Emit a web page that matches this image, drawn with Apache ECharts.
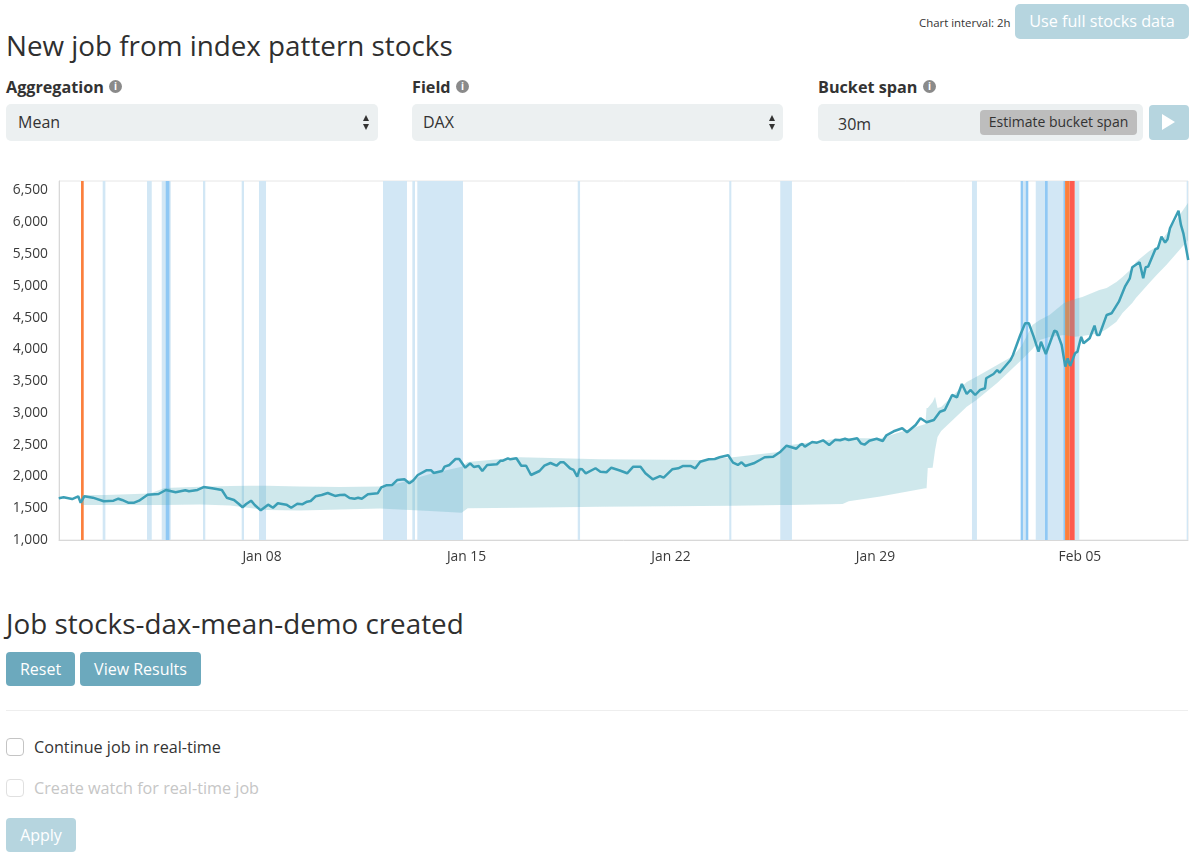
<!DOCTYPE html>
<html>
<head>
<meta charset="utf-8">
<title>New job from index pattern stocks</title>
<script src="https://cdn.jsdelivr.net/npm/echarts@6/dist/echarts.min.js"></script>
<style>
  html, body { margin: 0; padding: 0; background: #fff; }
  body { position: relative; width: 1194px; height: 858px; overflow: hidden; font-family: "Open Sans", sans-serif; color: #2d2d2d; }
  .abs { position: absolute; white-space: nowrap; }
  .title { font-size: 27.8px; line-height: 36px; color: #2f2f2f; }
  .lbl { font-size: 16.2px; font-weight: 700; line-height: 20px; top: 77px; color: #333; }
  .info { width: 13px; height: 13px; border-radius: 50%; background: #8a8a8a; color: #fff; font-size: 10px; font-weight: 700; line-height: 13px; text-align: center; top: 80px; }
  .box { top: 104px; height: 37px; background: #ecf0f1; border-radius: 5px; }
  .val { font-size: 16px; line-height: 20px; top: 112px; color: #333; }
  .up, .down { width: 0; height: 0; border-left: 3.5px solid transparent; border-right: 3.5px solid transparent; }
  .up { top: 115px; border-bottom: 6px solid #333; }
  .down { top: 124px; border-top: 6px solid #333; }
  .btn { height: 34px; line-height: 34px; text-align: center; color: #fff; font-size: 16px; border-radius: 4px; background: #6ca9bd; }
  .btn.off { background: #b6d5df; }
  .check { left: 6px; width: 16px; height: 16px; border: 1px solid #c4c4c4; border-radius: 4px; }
  .opt { left: 34px; font-size: 16.2px; line-height: 20px; }
  #main { position: absolute; left: 0; top: 170px; width: 1194px; height: 400px; }
</style>
</head>
<body>
<div class="abs" style="left:919px;top:15px;font-size:11.4px;line-height:16px;color:#333">Chart interval: 2h</div>
<div class="abs btn off" style="left:1015px;top:4px;width:174px;height:35px;line-height:35px;font-size:16.2px;border-radius:5px">Use full stocks data</div>
<div class="abs title" style="left:6px;top:27px">New job from index pattern stocks</div>

<div class="abs lbl" style="left:6px">Aggregation</div>
<div class="abs info" style="left:109px">i</div>
<div class="abs box" style="left:6px;width:372px"></div>
<div class="abs val" style="left:18px">Mean</div>
<div class="abs up" style="left:363px"></div><div class="abs down" style="left:363px"></div>

<div class="abs lbl" style="left:412px">Field</div>
<div class="abs info" style="left:456px">i</div>
<div class="abs box" style="left:412px;width:371px"></div>
<div class="abs val" style="left:423px">DAX</div>
<div class="abs up" style="left:769px"></div><div class="abs down" style="left:769px"></div>

<div class="abs lbl" style="left:818px">Bucket span</div>
<div class="abs info" style="left:923px">i</div>
<div class="abs box" style="left:818px;width:325px"></div>
<div class="abs val" style="left:838px;top:114px">30m</div>
<div class="abs" style="left:980px;top:110px;width:157px;height:25px;line-height:24px;background:#bdbdbd;border-radius:4px;text-align:center;font-size:14px;color:#333">Estimate bucket span</div>
<div class="abs btn off" style="left:1149px;top:105px;width:40px;height:35px"></div>
<div class="abs" style="left:1162px;top:114px;width:0;height:0;border-top:8.5px solid transparent;border-bottom:8.5px solid transparent;border-left:13px solid #fff"></div>

<div id="main"></div>

<div class="abs title" style="left:6px;top:605px">Job stocks-dax-mean-demo created</div>
<div class="abs btn" style="left:6px;top:652px;width:69px">Reset</div>
<div class="abs btn" style="left:80px;top:652px;width:121px">View Results</div>
<div class="abs" style="left:6px;top:710px;width:1182px;height:1px;background:#eeeeee"></div>
<div class="abs check" style="top:738px"></div>
<div class="abs opt" style="top:737px;color:#333">Continue job in real-time</div>
<div class="abs check" style="top:779px;border-color:#e0e0e0"></div>
<div class="abs opt" style="top:778px;color:#c6c6c6">Create watch for real-time job</div>
<div class="abs btn off" style="left:6px;top:818px;width:70px">Apply</div>

<script>
// x 轴单位：距 1 月 1 日 0 点的小时数
var axisMinHour = 1.2;
var axisMaxHour = 928.8;
var tickHours = [168, 336, 504, 672, 840];
var tickLabels = ['Jan 08', 'Jan 15', 'Jan 22', 'Jan 29', 'Feb 05'];

var lineHours = [1, 5, 12, 17, 19, 22, 29, 38, 46, 50, 53, 58, 63, 67, 74, 83, 89, 97, 105, 108, 115, 120, 127, 135, 139, 145, 149, 152, 155, 159, 162, 167, 173, 177, 181, 188, 192, 197, 201, 205, 208, 212, 217, 222, 228, 232, 236, 240, 244, 247, 250, 255, 263, 266, 270, 275, 279, 285, 289, 292, 296, 303, 307, 309, 316, 318, 322, 327, 330, 335, 339, 342, 346, 349, 353, 361, 364, 366, 370, 372, 377, 381, 385, 389, 396, 400, 405, 410, 413, 416, 421, 424, 427, 429, 431, 434, 442, 446, 451, 455, 462, 468, 473, 479, 483, 489, 495, 498, 505, 510, 514, 520, 524, 528, 535, 540, 544, 551, 555, 559, 562, 565, 572, 577, 581, 588, 594, 599, 607, 610, 612, 614, 620, 624, 629, 634, 639, 643, 647, 650, 657, 660, 663, 667, 673, 678, 681, 687, 694, 698, 705, 706, 709, 714, 720, 725, 729, 735, 739, 743, 747, 750, 754, 758, 762, 763, 769, 772, 774, 783, 785, 791, 795, 798, 802, 806, 808, 812, 819, 821, 825, 828, 830, 832, 836, 838, 841, 843, 848, 852, 854, 856, 862, 866, 872, 877, 881, 883, 889, 890, 892, 894, 896, 902, 904, 907, 910, 912, 914, 921, 923, 925, 929];
var lineValues = [1656, 1672, 1645, 1688, 1587, 1688, 1666, 1609, 1619, 1650, 1630, 1587, 1587, 1619, 1713, 1724, 1787, 1751, 1782, 1767, 1787, 1834, 1814, 1787, 1666, 1630, 1567, 1515, 1567, 1619, 1551, 1467, 1556, 1508, 1578, 1556, 1508, 1571, 1562, 1603, 1614, 1688, 1708, 1740, 1693, 1708, 1713, 1661, 1650, 1666, 1650, 1719, 1735, 1829, 1861, 1866, 1944, 1955, 1892, 1933, 2023, 2097, 2097, 2055, 2086, 2154, 2181, 2275, 2275, 2138, 2207, 2149, 2165, 2086, 2181, 2192, 2248, 2248, 2286, 2270, 2286, 2169, 2169, 2023, 2086, 2169, 2212, 2169, 2223, 2223, 2129, 2102, 1996, 2118, 2113, 2050, 2129, 2075, 2066, 2138, 2094, 2050, 2154, 2154, 2050, 1955, 2007, 1981, 2113, 2129, 2165, 2165, 2129, 2232, 2270, 2275, 2302, 2333, 2217, 2181, 2223, 2165, 2207, 2259, 2302, 2311, 2390, 2484, 2437, 2495, 2511, 2469, 2543, 2532, 2569, 2495, 2579, 2569, 2594, 2574, 2601, 2522, 2500, 2563, 2594, 2558, 2648, 2711, 2758, 2695, 2810, 2805, 2916, 2853, 2889, 3019, 3046, 3282, 3246, 3455, 3298, 3361, 3282, 3361, 3388, 3545, 3613, 3676, 3633, 3833, 3912, 4227, 4411, 4411, 4200, 3964, 4121, 3928, 4294, 4279, 4069, 3728, 3860, 3739, 3939, 3964, 4200, 4096, 4175, 4373, 4227, 4227, 4542, 4568, 4751, 4987, 5119, 5292, 5371, 5355, 5119, 5292, 5302, 5576, 5591, 5774, 5680, 5733, 5906, 6183, 5958, 5827, 5407];

var boundHours = [20, 39, 76, 88, 117, 142, 158, 172, 199, 232, 265, 281, 306, 332, 337, 380, 446, 528, 555, 594, 602, 645, 650, 676, 713, 714, 715, 719, 721, 723, 726, 747, 755, 772, 785, 792, 801, 807, 815, 827, 836, 842, 856, 862, 870, 875, 883, 886, 897, 903, 911, 929];
var lowerBound = [1551, 1551, 1551, 1551, 1559, 1543, 1504, 1472, 1464, 1480, 1496, 1480, 1456, 1430, 1499, 1507, 1524, 1535, 1540, 1551, 1551, 1567, 1609, 1685, 1814, 1814, 2133, 2138, 2417, 2621, 2716, 3098, 3204, 3471, 3707, 3833, 4006, 4148, 4195, 4227, 4200, 4211, 4253, 4321, 4436, 4573, 4730, 4809, 5045, 5171, 5329, 5722];
var upperBound = [1708, 1708, 1732, 1818, 1839, 1850, 1855, 1855, 1842, 1834, 1842, 1897, 2039, 2154, 2228, 2302, 2270, 2259, 2302, 2390, 2495, 2605, 2605, 2598, 2826, 3078, 3078, 3172, 3256, 3078, 3093, 3487, 3570, 3755, 3896, 4054, 4384, 4463, 4542, 4730, 4793, 4825, 4935, 4966, 5061, 5140, 5281, 5376, 5549, 5612, 5816, 6309];

var minorStart = [37.1, 73.5, 85.6, 119.5, 151.3, 165.5, 267.4, 291.5, 295.6, 427.4, 551.9, 593.8, 751.3, 793.2, 803.7, 835.7, 927.7];
var minorEnd = [39.3, 77.4, 93.0, 121.4, 153.2, 171.3, 287.1, 293.7, 333.1, 429.3, 553.6, 603.4, 755.4, 795.4, 827.2, 839.5, 928.8];
var warningStart = [88.9, 791.3, 795.4, 811.3, 826.5];
var warningEnd = [91.9, 793.2, 797.6, 813.5, 827.8];
var majorStart = [19.3, 827.8];
var majorEnd = [21.5, 831.6];
var criticalStart = [831.6];
var criticalEnd = [835.7];

function pairs(hours, values) {
  return hours.map(function (h, i) { return [h, values[i]]; });
}

// 异常区间用 markArea 画，挂在空 series 上
function anomaly(name, starts, ends, color) {
  return {
    name: name,
    type: 'line',
    data: [],
    silent: true,
    markArea: {
      silent: true,
      itemStyle: { color: color },
      data: starts.map(function (s, i) {
        return [{ xAxis: s }, { xAxis: ends[i] }];
      })
    }
  };
}

// 上下界画成一个多边形，坐标走 api.coord
function renderBounds(params, api) {
  if (params.dataIndex !== 0) {
    return null;
  }
  var points = [];
  boundHours.forEach(function (h, i) {
    points.push(api.coord([h, upperBound[i]]));
  });
  for (var i = boundHours.length - 1; i >= 0; i--) {
    points.push(api.coord([boundHours[i], lowerBound[i]]));
  }
  return {
    type: 'polygon',
    shape: { points: points },
    style: { fill: 'rgba(95,178,192,0.3)' }
  };
}

var myChart = echarts.init(document.getElementById('main'));

var option = {
  animation: false,
  textStyle: { fontFamily: '"Open Sans", sans-serif' },
  grid: { left: 59, right: 6, top: 11, height: 359, show: true, borderColor: '#e6e6e6', borderWidth: 1 },
  xAxis: {
    type: 'value',
    min: axisMinHour,
    max: axisMaxHour,
    axisLine: { lineStyle: { color: '#d8d8d8', width: 1 } },
    axisTick: { show: false },
    splitLine: { show: false },
    axisLabel: {
      customValues: tickHours,
      color: '#3a3a3a',
      fontSize: 13.8,
      margin: 10,
      formatter: function (value) {
        return tickLabels[tickHours.indexOf(value)];
      }
    }
  },
  yAxis: {
    type: 'value',
    min: 1000,
    max: 6650,
    interval: 500,
    axisLine: { show: true, lineStyle: { color: '#d8d8d8', width: 1 } },
    axisTick: { show: false },
    splitLine: { show: false },
    axisLabel: {
      color: '#3a3a3a',
      fontSize: 13.8,
      margin: 11,
      showMaxLabel: false,
      padding: [0, 0, 8, 0],
      formatter: function (value) {
        return value.toLocaleString('en-US');
      }
    }
  },
  series: [
    anomaly('minor', minorStart, minorEnd, '#d2e7f5'),
    anomaly('warning', warningStart, warningEnd, '#8fc8f4'),
    anomaly('major', majorStart, majorEnd, '#fb7f3c'),
    anomaly('critical', criticalStart, criticalEnd, '#fd5a50'),
    {
      name: 'bounds',
      type: 'custom',
      z: 3,
      silent: true,
      clip: true,
      renderItem: renderBounds,
      encode: { x: 0, y: 1 },
      data: boundHours.map(function (h, i) { return [h, lowerBound[i], upperBound[i]]; })
    },
    {
      name: 'DAX',
      type: 'line',
      z: 4,
      symbol: 'none',
      lineStyle: { color: '#3b9fb6', width: 2.5 },
      data: pairs(lineHours, lineValues)
    }
  ]
};

myChart.setOption(option);
</script>
</body>
</html>
